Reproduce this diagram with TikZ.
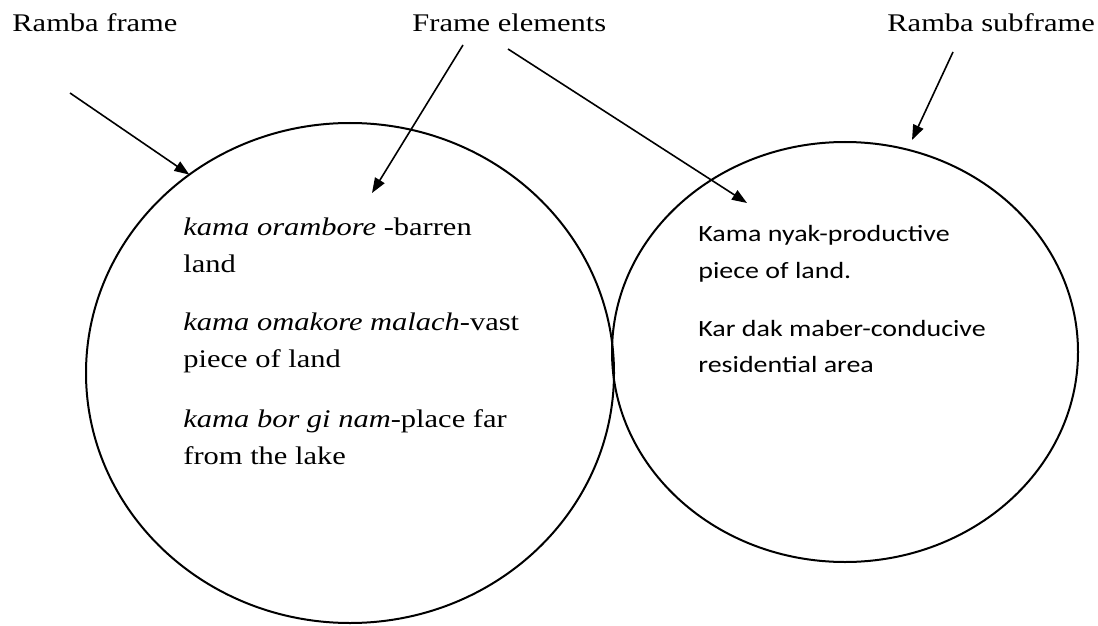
\documentclass[tikz,border=0pt]{standalone}
\usepackage{fontspec}
\setmainfont{Liberation Serif}[FakeStretch=1.2]
\newfontfamily\calibrifont{Carlito}[FakeStretch=1.2]
\usetikzlibrary{arrows.meta,shapes.geometric}

\newcommand{\serifbody}{\fontsize{12.7}{18.5}\selectfont}
\newcommand{\sansbody}{\calibrifont\fontsize{11.65}{18}\selectfont}

\begin{document}
\begin{tikzpicture}[x=0.5pt, y=-0.5pt, % one unit = one pixel, y grows downwards
    pointer/.style={line width=0.8pt, -{Triangle[length=7.5pt,width=5.5pt]}},
    frameshape/.style={draw, ellipse, line width=1pt, inner sep=0pt, outer sep=0pt},
    lbl/.style={inner sep=0pt, anchor=base west, font=\serifbody},
    serifitem/.style={inner sep=0pt, anchor=base west, align=left, font=\serifbody},
    sansitem/.style={inner sep=0pt, anchor=base west, align=left, font=\sansbody}]
    \useasboundingbox (0,0) rectangle (1098,626);

    % The two frames
    \node[frameshape, minimum width=264pt, minimum height=250pt] (frame) at (350,373) {};
    \node[frameshape, minimum width=233pt, minimum height=210pt] (subframe) at (845,352) {};

    % Labels on top
    \node[lbl] (framelbl) at (12,32) {Ramba frame};
    \node[lbl] (elemlbl) at (412,32) {Frame elements};
    \node[lbl] (sublbl) at (887,32) {Ramba subframe};

    % Elements of the frame (placed at the baseline of their last line)
    \node[serifitem] (fe1) at (183,272) {\textit{kama orambore} -barren\\land};
    \node[serifitem] (fe2) at (183,367) {\textit{kama omakore malach}-vast\\piece of land};
    \node[serifitem] (fe3) at (183,464) {\textit{kama bor gi nam}-place far\\from the lake};

    % Elements of the subframe
    \node[sansitem] (sf1) at (698,278) {Kama nyak-productive\\piece of land.};
    \node[sansitem] (sf2) at (698,372) {Kar dak maber-conducive\\residential area};

    % Where the arrows point
    \coordinate (elemtipA) at (372,193);
    \coordinate (elemtipB) at (747,203);
    \coordinate (subtip) at (912,140);

    % Arrows
    \draw[pointer] ([shift={(58,61)}]framelbl.base west) -- (frame.129);
    \draw[pointer] ([shift={(51,13)}]elemlbl.base west) -- (elemtipA);
    \draw[pointer] ([shift={(96,17)}]elemlbl.base west) -- (elemtipB);
    \draw[pointer] ([shift={(66,20)}]sublbl.base west) -- (subtip);

\end{tikzpicture}
\end{document}
